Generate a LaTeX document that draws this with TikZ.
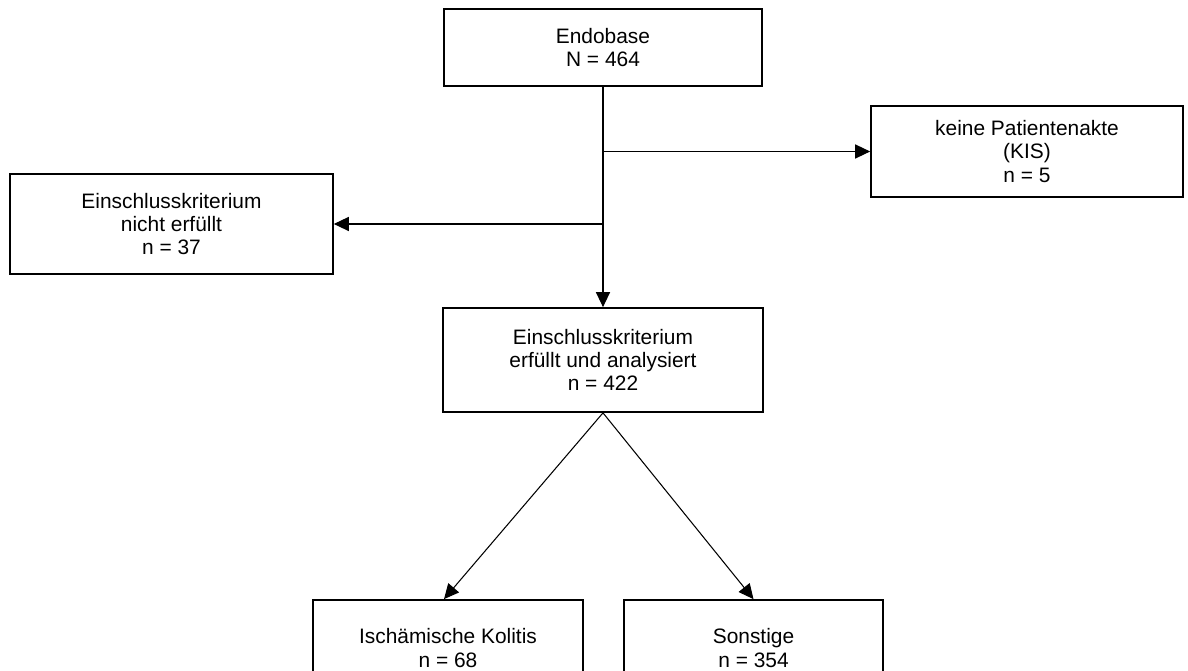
\documentclass[tikz,border=0pt]{standalone}
\usepackage{fontspec}
\setmainfont{Liberation Sans}
\usetikzlibrary{arrows.meta, positioning}
\tikzset{every node/.style={align=center}}

\begin{document}
\begin{tikzpicture}[
    x=0.02cm, y=-0.02cm,
    box/.style={draw, line width=1pt, font=\fontsize{11.9}{13.2}\selectfont, inner sep=2pt},
    flow/.style={-{Triangle[length=8.5pt,width=8pt]}, line width=0.6pt}
]
  \useasboundingbox (0,0) rectangle (1188,671);
  \clip (0,0) rectangle (1188,671);

  \node (SRC)  at (603, 47.5) [box, minimum width=6.36cm, minimum height=1.54cm] {Endobase\\N = 464};
  \node (NOKIS) at (1027,151.5) [box, minimum width=6.24cm, minimum height=1.82cm] {keine Patientenakte\\(KIS)\\n = 5};
  \node (EXCL) at (171.5,224) [box, minimum width=6.46cm, minimum height=2.0cm] {Einschlusskriterium\\nicht erfüllt\\n = 37};
  \node (INCL) at (603, 360) [box, minimum width=6.4cm, minimum height=2.08cm] {Einschlusskriterium\\erfüllt und analysiert\\n = 422};
  \node (ISCH) at (448, 648) [box, minimum width=5.4cm, minimum height=1.92cm] {Ischämische Kolitis\\n = 68};
  \node (OTHER) at (753.5,648) [box, minimum width=5.18cm, minimum height=1.92cm] {Sonstige\\n = 354};

  \draw[flow] (SRC.south) -- (INCL.north);
  \draw[flow] (SRC.south |- NOKIS.west) -- (NOKIS.west);
  \draw[flow] (SRC.south |- EXCL.east) -- (EXCL.east);
  \draw[flow] (INCL.south) -- ([xshift=-0.08cm]ISCH.north);
  \draw[flow] (INCL.south) -- (OTHER.north);
\end{tikzpicture}
\end{document}
